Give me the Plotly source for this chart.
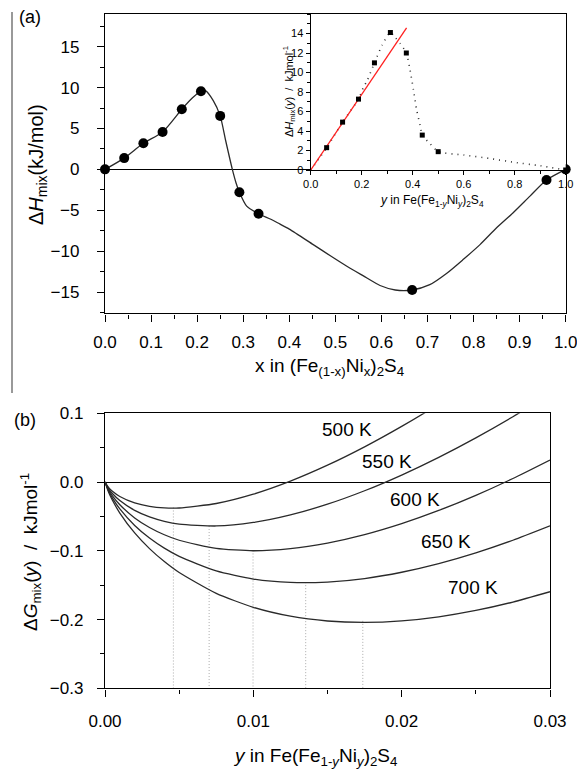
import plotly.graph_objects as go

# ---------------- Panel (a): main ----------------
a_pts_x = [0.0, 0.0417, 0.0833, 0.125, 0.1667, 0.2083, 0.25, 0.2917, 0.3333, 0.6667, 0.9583, 1.0]
a_pts_y = [0.0, 1.38, 3.19, 4.57, 7.35, 9.56, 6.54, -2.8, -5.43, -14.75, -1.3, 0.0]

a_curve_x = [0.0, 0.0417, 0.0833, 0.125, 0.1667, 0.19, 0.2083, 0.218, 0.235, 0.25, 0.262,
             0.2764, 0.2843, 0.2917, 0.3075, 0.3333, 0.36, 0.38, 0.40, 0.452, 0.49, 0.525,
             0.56, 0.597, 0.63, 0.6667, 0.705, 0.742, 0.778, 0.814, 0.85, 0.886, 0.9225,
             0.9583, 1.0]
a_curve_y = [0.0, 1.38, 3.19, 4.57, 7.35, 8.75, 9.56, 9.62, 8.4, 6.54, 3.5,
             0.0, -1.63, -2.8, -4.5, -5.43, -6.1, -6.7, -7.3, -9.2, -10.6, -11.85,
             -13.0, -14.2, -14.75, -14.75, -14.1, -12.7, -11.0, -9.2, -7.15, -5.3, -3.27,
             -1.3, 0.0]

# ---------------- Panel (a): inset ----------------
in_pts_x = [0.0625, 0.125, 0.1875, 0.25, 0.3125, 0.375, 0.4375, 0.5, 1.0]
in_pts_y = [2.29, 4.91, 7.27, 10.99, 14.1, 12.0, 3.58, 1.88, 0.0]

in_curve_x = [0.0, 0.0625, 0.125, 0.1875, 0.2065, 0.222, 0.25, 0.28, 0.3125, 0.331, 0.35, 0.375,
              0.39, 0.403, 0.416, 0.429, 0.4375, 0.468, 0.5, 0.6, 0.7, 0.8, 0.9, 1.0]
in_curve_y = [0.0, 2.29, 4.91, 7.27, 8.46, 9.2, 10.99, 12.8, 14.1, 13.6, 13.0, 12.0,
              10.2, 8.2, 6.1, 4.6, 3.58, 2.7, 1.88, 1.54, 1.19, 0.78, 0.44, 0.0]

red_x = [0.0, 0.376]
red_y = [0.0, 14.57]

# ---------------- Panel (b) ----------------
b_x = [0.0, 0.00025, 0.0005, 0.001, 0.002, 0.003, 0.004, 0.005, 0.0075, 0.01, 0.0125,
       0.015, 0.0175, 0.02, 0.0225, 0.025, 0.0275, 0.03]
g500 = [0.0, -0.00812, -0.01335, -0.02094, -0.03035, -0.03540, -0.03761, -0.03772, -0.03122,
        -0.01760, 0.00132, 0.02449, 0.05117, 0.08091, 0.11329, 0.14803, 0.18491, 0.22374]
g550 = [0.0, -0.00991, -0.01666, -0.02698, -0.04126, -0.05076, -0.05713, -0.06119, -0.06389,
        -0.05876, -0.04779, -0.03217, -0.01266, 0.01020, 0.03597, 0.06434, 0.09506, 0.12791]
g600 = [0.0, -0.01171, -0.01996, -0.03301, -0.05218, -0.06611, -0.07666, -0.08466, -0.09656,
        -0.09992, -0.09691, -0.08882, -0.07650, -0.06051, -0.04135, -0.01936, 0.00520, 0.03209]
g650 = [0.0, -0.01351, -0.02327, -0.03904, -0.06309, -0.08147, -0.09618, -0.10813, -0.12923,
        -0.14108, -0.14603, -0.14547, -0.14033, -0.13122, -0.11867, -0.10306, -0.08466, -0.06374]
g700 = [0.0, -0.01530, -0.02658, -0.04508, -0.07401, -0.09683, -0.11570, -0.13161, -0.16191,
        -0.18224, -0.19515, -0.20212, -0.20416, -0.20193, -0.19599, -0.18675, -0.17452, -0.15956]
temps = ["500 K", "550 K", "600 K", "650 K", "700 K"]
label_x = [0.0163, 0.0190, 0.0209, 0.0230, 0.0248]
label_y = [0.076, 0.030, -0.0256, -0.0866, -0.154]
min_x = [0.00461, 0.00702, 0.00998, 0.01353, 0.01738]
min_y = [-0.037, -0.064, -0.0995, -0.1456, -0.2019]

W, H = 577, 772
def px(x):
    return x / W
def py(y):
    return 1 - y / H

FONT = "Arial, Liberation Sans, sans-serif"
fig = go.Figure()

line_col = "#2a2a2a"
fig.add_trace(go.Scatter(x=a_curve_x, y=a_curve_y, mode="lines",
                         line=dict(color=line_col, width=1.3, shape="spline", smoothing=0.7),
                         xaxis="x", yaxis="y"))
fig.add_trace(go.Scatter(x=a_pts_x, y=a_pts_y, mode="markers",
                         marker=dict(color="black", size=10), xaxis="x", yaxis="y",
                         cliponaxis=False))

fig.add_trace(go.Scatter(x=in_curve_x, y=in_curve_y, mode="lines",
                         line=dict(color="#333", width=1.6, dash="1px,5px", shape="spline", smoothing=0.6),
                         xaxis="x2", yaxis="y2"))
fig.add_trace(go.Scatter(x=red_x, y=red_y, mode="lines",
                         line=dict(color="#ff2020", width=1.3), xaxis="x2", yaxis="y2"))
fig.add_trace(go.Scatter(x=in_pts_x, y=in_pts_y, mode="markers",
                         marker=dict(color="black", size=5, symbol="square"),
                         xaxis="x2", yaxis="y2", cliponaxis=False))

for mx, my in zip(min_x, min_y):
    fig.add_trace(go.Scatter(x=[mx, mx], y=[my, -0.3], mode="lines",
                             line=dict(color="#aaaaaa", width=1, dash="1px,2px"),
                             xaxis="x3", yaxis="y3"))
for g in [g500, g550, g600, g650, g700]:
    fig.add_trace(go.Scatter(x=b_x, y=g, mode="lines",
                             line=dict(color=line_col, width=1.3, shape="spline", smoothing=0.6),
                             xaxis="x3", yaxis="y3"))

ax_common = dict(showline=True, mirror=True, linecolor="black", linewidth=1.4,
                 showgrid=False, ticks="outside", tickcolor="black", tickwidth=1.3,
                 ticklen=7, automargin=False, ticklabeloverflow="allow")

fig.update_layout(
    width=W, height=H, margin=dict(l=0, r=0, t=0, b=0, pad=0, autoexpand=False),
    paper_bgcolor="white", plot_bgcolor="white", showlegend=False,
    font=dict(family=FONT, color="black"),
    xaxis=dict(domain=[px(105), px(565.7)], range=[0, 1.0], dtick=0.1, tick0=0,
               tickformat=".1f", anchor="y", zeroline=False, ticklabelstandoff=6,
               minor=dict(ticks="outside", ticklen=4, dtick=0.05, tickcolor="black", tickwidth=1.2),
               tickfont=dict(size=17), **ax_common),
    yaxis=dict(domain=[py(313.3), py(14)], range=[-17.6, 19], tickvals=[-15, -10, -5, 0, 5, 10, 15],
               anchor="x", zeroline=True, zerolinecolor="black", zerolinewidth=1.2,
               ticklabelstandoff=14,
               minor=dict(ticks="outside", ticklen=4, dtick=2.5, tick0=0, tickcolor="black", tickwidth=1.2),
               tickfont=dict(size=17), **ax_common),
    xaxis2=dict(domain=[px(310.7), px(565.7)], range=[0, 1.0], dtick=0.2, tick0=0,
                tickformat=".1f", anchor="y2", zeroline=False, automargin=False,
                ticklabeloverflow="allow",
                minor=dict(ticks="outside", ticklen=2.5, dtick=0.1, tickcolor="black", tickwidth=1),
                tickfont=dict(size=11),
                showline=True, mirror=True, linecolor="black", linewidth=1.3,
                showgrid=False, ticks="outside", tickcolor="black", tickwidth=1, ticklen=4),
    yaxis2=dict(domain=[py(170), py(14)], range=[0, 16], tickvals=[0, 2, 4, 6, 8, 10, 12, 14],
                anchor="x2", zeroline=False, automargin=False,
                minor=dict(ticks="outside", ticklen=2.5, dtick=1, tickcolor="black", tickwidth=1),
                tickfont=dict(size=11),
                showline=True, mirror=True, linecolor="black", linewidth=1.3,
                showgrid=False, ticks="outside", tickcolor="black", tickwidth=1, ticklen=4),
    xaxis3=dict(domain=[px(105), px(550)], range=[0, 0.03], dtick=0.01, tick0=0,
                tickformat=".2f", anchor="y3", zeroline=False, ticklabelstandoff=10,
                minor=dict(ticks="outside", ticklen=4, dtick=0.005, tickcolor="black", tickwidth=1.2),
                tickfont=dict(size=17), **ax_common),
    yaxis3=dict(domain=[py(688.3), py(413.3)], range=[-0.3, 0.1], dtick=0.1, tick0=0,
                tickformat=".1f", anchor="x3", zeroline=True, zerolinecolor="black", zerolinewidth=1.2,
                ticklabelstandoff=10,
                minor=dict(ticks="outside", ticklen=4, dtick=0.05, tick0=0, tickcolor="black", tickwidth=1.2),
                tickfont=dict(size=17), **ax_common),
)

anns = []
for t, lx, ly in zip(temps, label_x, label_y):
    anns.append(dict(x=lx, y=ly, xref="x3", yref="y3", text=t, showarrow=False,
                     font=dict(size=19), xanchor="center", yanchor="middle"))

anns += [
    dict(x=px(37), y=py(165), xref="paper", yref="paper", textangle=-90, showarrow=False,
         text="Δ<i>H</i><sub>mix</sub>(kJ/mol)", font=dict(size=20),
         xanchor="center", yanchor="middle"),
    dict(x=px(330), y=py(367), xref="paper", yref="paper", showarrow=False,
         text="x in (Fe<sub>(1-x)</sub>Ni<sub>x</sub>)<sub>2</sub>S<sub>4</sub>", font=dict(size=19),
         xanchor="center", yanchor="middle"),
    dict(x=px(289), y=py(92), xref="paper", yref="paper", textangle=-90, showarrow=False,
         text="Δ<i>H</i><sub>mix</sub>(<i>y</i>)  /  kJmol<sup>-1</sup>", font=dict(size=11),
         xanchor="center", yanchor="middle"),
    dict(x=px(432), y=py(201), xref="paper", yref="paper", showarrow=False,
         text="<i>y</i> in Fe(Fe<sub>1-<i>y</i></sub>Ni<sub><i>y</i></sub>)<sub>2</sub>S<sub>4</sub>",
         font=dict(size=12), xanchor="center", yanchor="middle"),
    dict(x=px(30), y=py(552), xref="paper", yref="paper", textangle=-90, showarrow=False,
         text="Δ<i>G</i><sub>mix</sub>(<i>y</i>)  /  kJmol<sup>-1</sup>", font=dict(size=19),
         xanchor="center", yanchor="middle"),
    dict(x=px(315), y=py(757), xref="paper", yref="paper", showarrow=False,
         text="<i>y</i> in Fe(Fe<sub>1-<i>y</i></sub>Ni<sub><i>y</i></sub>)<sub>2</sub>S<sub>4</sub>",
         font=dict(size=19), xanchor="center", yanchor="middle"),
    dict(x=px(30), y=py(17), xref="paper", yref="paper", showarrow=False, text="(a)",
         font=dict(size=18), xanchor="center", yanchor="middle"),
    dict(x=px(25), y=py(420), xref="paper", yref="paper", showarrow=False, text="(b)",
         font=dict(size=18), xanchor="center", yanchor="middle"),
]
fig.update_layout(annotations=anns)

fig.add_shape(type="line", xref="paper", yref="paper", x0=px(12), x1=px(12), y0=py(12), y1=py(393),
              line=dict(color="#777", width=1.5))

# remove the browser's default 8px page margin so the figure fills the window
fig.write_html("out.html", config={"displayModeBar": False},
               post_script="document.body.style.margin='0';document.body.style.overflow='hidden';")
